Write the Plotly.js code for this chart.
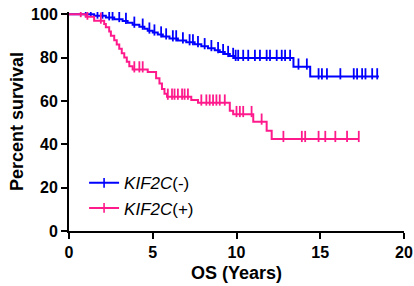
<!DOCTYPE html>
<html>
<head>
<meta charset="utf-8">
<script src="https://cdn.plot.ly/plotly-3.0.1.min.js"></script>
<style>html,body{margin:0;padding:0;background:#fff;}#chart{width:414px;height:286px;}</style>
</head>
<body>
<div id="chart"></div>
<script>
// KIF2C(-) group: step times (years) and survival (%)
const negTimes = [0, 1.5, 2.2, 2.7, 3.2, 3.5, 3.8, 4.2, 4.5, 4.7, 5.0, 5.3, 5.6, 6.0, 6.5, 7.0, 7.5, 7.9, 8.3, 8.7, 9.0, 9.3, 9.6, 9.9, 13.4, 14.4];
const negSurv  = [100, 99.3, 98.5, 97.7, 96.9, 96.0, 95.1, 94.2, 93.3, 92.4, 91.5, 90.6, 89.7, 88.8, 87.9, 87.0, 86.1, 85.2, 84.3, 83.4, 82.5, 81.6, 80.7, 79.8, 75.8, 71.3];
const negEnd = 18.5;
const negCensor = [1.0, 1.3, 1.7, 2.0, 2.4, 2.6, 3.0, 3.4, 3.9, 4.4, 4.8, 5.1, 5.5, 5.8, 6.2, 6.4, 6.8, 7.2, 7.4, 7.7, 8.1, 8.5, 8.9, 9.2, 9.5, 9.8,
  9.95, 10.1, 10.4, 10.7, 11.1, 11.4, 11.8, 12.0, 12.4, 12.7, 12.9, 13.2, 13.7, 14.2,
  14.9, 15.1, 15.4, 16.2, 17.0, 17.2, 17.5, 17.7, 18.1, 18.4];

// KIF2C(+) group
const posTimes = [0, 1.0, 1.5, 2.1, 2.2, 2.4, 2.5, 2.7, 2.85, 3.0, 3.15, 3.3, 3.45, 3.6, 3.8, 4.7, 5.2, 5.4, 5.55, 5.7, 5.85, 7.3, 7.7, 9.6, 9.8, 11.0, 11.8, 12.1];
const posSurv  = [100, 98.8, 97.0, 95.5, 94.0, 92.0, 90.0, 88.0, 86.0, 84.0, 82.0, 80.0, 78.0, 76.0, 74.5, 73.3, 70.5, 68.0, 65.5, 63.3, 61.9, 60.4, 59.2, 55.5, 53.9, 50.4, 46.2, 42.4];
const posEnd = 17.3;
const posCensor = [0.7, 1.1, 1.9, 3.9, 4.2, 4.4, 5.9, 6.15, 6.3, 6.5, 6.75, 6.9, 7.1, 7.9, 8.2, 8.4, 8.6, 8.8, 9.0, 9.3,
  10.0, 10.2, 10.4, 10.9, 11.5, 12.8, 13.9, 14.1, 14.9, 15.3, 15.9, 16.6, 17.3];

const groupNames = ['<i>KIF2C</i>(-)', '<i>KIF2C</i>(+)'];
const groupColors = ['#0000FF', '#FF1A8C'];

function survAt(times, surv, t) {
  let v = surv[0];
  for (let i = 0; i < times.length; i++) { if (times[i] <= t) v = surv[i]; }
  return v;
}
function stepTrace(times, surv, end, color) {
  return {
    x: times.concat([end]), y: surv.concat([surv[surv.length - 1]]),
    mode: 'lines', line: {shape: 'hv', color: color, width: 2},
    showlegend: false, hoverinfo: 'skip', type: 'scatter'
  };
}
function censorTrace(times, surv, cens, color) {
  return {
    x: cens, y: cens.map(t => survAt(times, surv, t) + 1.2),
    mode: 'markers', type: 'scatter', showlegend: false, hoverinfo: 'skip',
    marker: {symbol: 'line-ns', size: 8, line: {color: color, width: 1.8}, color: color}
  };
}
function legendTrace(name, color) {
  return {
    x: [null], y: [null], name: name, type: 'scatter', mode: 'lines+markers',
    line: {color: color, width: 2},
    marker: {symbol: 'line-ns', size: 7, line: {color: color, width: 1.6}, color: color}
  };
}

const data = [
  stepTrace(negTimes, negSurv, negEnd, groupColors[0]),
  censorTrace(negTimes, negSurv, negCensor, groupColors[0]),
  stepTrace(posTimes, posSurv, posEnd, groupColors[1]),
  censorTrace(posTimes, posSurv, posCensor, groupColors[1]),
  legendTrace(groupNames[0], groupColors[0]),
  legendTrace(groupNames[1], groupColors[1])
];

const layout = {
  width: 414, height: 286,
  margin: {l: 69, r: 10, t: 12, b: 55, pad: 0},
  paper_bgcolor: '#fff', plot_bgcolor: '#fff',
  font: {family: 'Liberation Sans, Arial, sans-serif', color: '#000'},
  showlegend: true,
  legend: {x: 0.045, y: 0.3, xanchor: 'left', yanchor: 'top', bgcolor: 'rgba(0,0,0,0)',
           font: {size: 17, color: '#000'}, tracegroupgap: 0},
  xaxis: {
    range: [0, 20], tickvals: [0, 5, 10, 15, 20], ticktext: ['0', '5', '10', '15', '20'],
    showgrid: false, zeroline: false, showline: true, linecolor: '#000', linewidth: 2,
    ticks: 'outside', ticklen: 6, tickwidth: 2, tickcolor: '#000',
    tickfont: {size: 16, family: 'Liberation Sans, Arial, sans-serif', color: '#000', weight: 'bold'},
    title: {text: '<b>OS (Years)</b>', font: {size: 18, color: '#000'}, standoff: 6}
  },
  yaxis: {
    range: [0, 101], tickvals: [0, 20, 40, 60, 80, 100], ticktext: ['0', '20', '40', '60', '80', '100'],
    showgrid: false, zeroline: false, showline: true, linecolor: '#000', linewidth: 2,
    ticks: 'outside', ticklen: 6, tickwidth: 2, tickcolor: '#000',
    tickfont: {size: 16, family: 'Liberation Sans, Arial, sans-serif', color: '#000', weight: 'bold'},
    title: {text: '<b>Percent survival</b>', font: {size: 18, color: '#000'}, standoff: 3}
  }
};

Plotly.newPlot('chart', data, layout, {displayModeBar: false, staticPlot: true});
</script>
</body>
</html>
